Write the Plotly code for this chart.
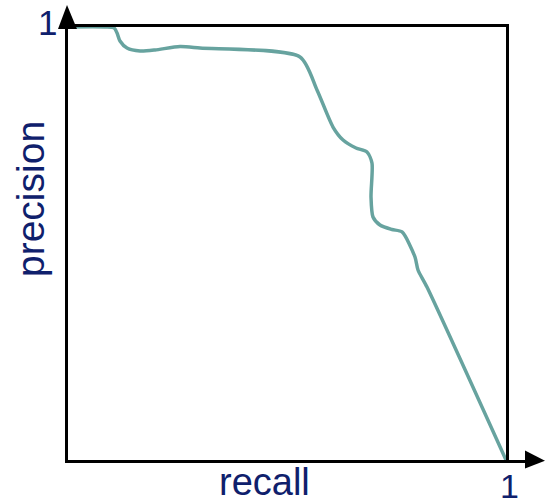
import plotly.graph_objects as go

# Precision-recall curve values
recall = [0.0, 0.0845, 0.105, 0.112, 0.1187, 0.1347, 0.1644, 0.1986, 0.2557, 0.3014,
          0.5297, 0.5685, 0.605, 0.628, 0.6575, 0.6826, 0.694, 0.6918, 0.6963, 0.7123,
          0.7397, 0.7626, 0.7922, 0.7991, 0.8196, 1.0]
precision = [1.0, 1.0, 0.998, 0.9861, 0.9677, 0.9515, 0.9446, 0.9469, 0.955, 0.9515,
             0.9307, 0.8545, 0.769, 0.739, 0.7206, 0.7113, 0.6859, 0.6074, 0.5612, 0.5427,
             0.5323, 0.5266, 0.4688, 0.4388, 0.3995, 0.0]

x_label = "recall"
y_label = "precision"
tick_one = "1"

TEXT = "#0f206c"
CURVE = "#67a39f"
FONT = "Liberation Sans, Arial, sans-serif"

fig = go.Figure()
fig.add_trace(go.Scatter(
    x=recall, y=precision, mode="lines",
    line=dict(color=CURVE, width=3.5, shape="spline", smoothing=0.7),
    hoverinfo="skip", showlegend=False, cliponaxis=False,
))

fig.update_layout(
    width=545, height=504,
    margin=dict(l=68, r=39, t=27, b=44),
    paper_bgcolor="white", plot_bgcolor="white",
    xaxis=dict(range=[0, 1], showline=True, mirror=True, linewidth=3, linecolor="black",
               showgrid=False, zeroline=False, showticklabels=False, ticks=""),
    yaxis=dict(range=[0, 1], showline=True, mirror=True, linewidth=3, linecolor="black",
               showgrid=False, zeroline=False, showticklabels=False, ticks=""),
    showlegend=False,
    shapes=[
        # top arrow head
        dict(type="path", xref="paper", yref="paper",
             path="M -0.0023 1.0508 L -0.0228 0.9954 L 0.0205 0.9954 Z",
             fillcolor="black", line=dict(width=0)),
        # bottom axis extension
        dict(type="line", xref="paper", yref="paper", x0=1.0, x1=1.05, y0=-0.0035, y1=-0.0035,
             line=dict(color="black", width=3)),
        # right arrow head
        dict(type="path", xref="paper", yref="paper",
             path="M 1.089 -0.002 L 1.0434 0.0220 L 1.0434 -0.0196 Z",
             fillcolor="black", line=dict(width=0)),
    ],
    annotations=[
        dict(text=tick_one, xref="paper", yref="paper", x=(47 - 68) / 438, y=(460 - 23) / 433,
             showarrow=False, xanchor="center", yanchor="middle",
             font=dict(family=FONT, size=35, color=TEXT)),
        dict(text=tick_one, xref="paper", yref="paper", x=(509 - 68) / 438, y=(460 - 486) / 433,
             showarrow=False, xanchor="center", yanchor="middle",
             font=dict(family=FONT, size=34, color=TEXT)),
        dict(text=x_label, xref="paper", yref="paper", x=(264 - 68) / 438, y=(460 - 482) / 433,
             showarrow=False, xanchor="center", yanchor="middle",
             font=dict(family=FONT, size=38, color=TEXT)),
        dict(text=y_label, xref="paper", yref="paper", x=(31 - 68) / 438, y=(460 - 199) / 433,
             showarrow=False, xanchor="center", yanchor="middle", textangle=-90,
             font=dict(family=FONT, size=39, color=TEXT)),
    ],
)

fig.write_html("out.html", config={"displayModeBar": False},
               post_script="document.body.style.margin='0';document.body.style.overflow='hidden';")
